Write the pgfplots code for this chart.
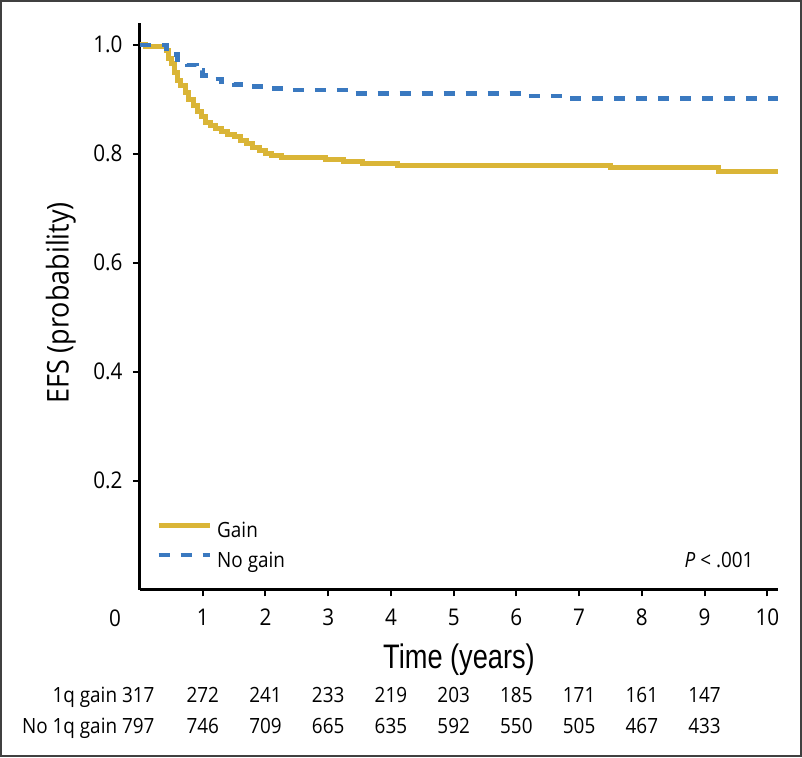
\documentclass[border=0pt]{standalone}
\usepackage{fontspec}
\setmainfont{Open Sans}[FakeStretch=0.9]
\newfontfamily\condfont[FakeStretch=0.8]{Liberation Sans}
\usepackage{pgfplots}
\pgfplotsset{compat=1.18}
\definecolor{gold}{RGB}{218,181,55}
\definecolor{kmblue}{RGB}{58,121,192}

\pgfplotstableread{
t v
0 1.000
0.08 0.997
0.42 0.990
0.45 0.975
0.50 0.965
0.55 0.950
0.60 0.935
0.65 0.925
0.72 0.912
0.78 0.900
0.85 0.888
0.92 0.878
0.98 0.868
1.05 0.858
1.12 0.852
1.20 0.846
1.30 0.840
1.40 0.836
1.50 0.831
1.60 0.824
1.70 0.818
1.80 0.811
1.90 0.806
2.00 0.801
2.10 0.797
2.25 0.793
2.95 0.789
3.25 0.786
3.55 0.782
4.10 0.779
7.50 0.774
9.22 0.768
10.17 0.768
}\gaintable

\pgfplotstableread{
t v
0 1.000
0.42 0.993
0.50 0.982
0.60 0.972
0.75 0.963
0.90 0.953
1.00 0.944
1.15 0.937
1.30 0.932
1.50 0.927
1.70 0.923
2.00 0.920
2.30 0.917
3.35 0.911
6.10 0.906
6.80 0.901
10.17 0.901
}\nogaintable

\begin{document}
\begin{tikzpicture}
\path[use as bounding box] (-140pt,589.5pt) rectangle (662pt,-167.5pt);
\draw[line width=2pt, black!75] (-138.5pt,588pt) rectangle (660.5pt,-166pt);
\begin{axis}[
  at={(0pt,0pt)}, anchor=south west,
  scale only axis, width=638pt, height=566.5pt,
  xmin=0, xmax=10.17, ymin=0, ymax=1.04,
  axis x line*=bottom, axis y line*=left,
  axis line style={-, line width=3pt, black},
  every outer x axis line/.append style={line width=3pt},
  every outer y axis line/.append style={line width=3pt},
  every inner x axis line/.append style={line width=3pt},
  every inner y axis line/.append style={line width=3pt},
  tick align=outside, major tick length=7pt,
  tick style={line width=2pt, black},
  xtick={1,2,3,4,5,6,7,8,9,10},
  xticklabels={1,2,3,4,5,6,7,8,9,10},
  ytick={0.2,0.4,0.6,0.8,1.0},
  yticklabels={0.2,0.4,0.6,0.8,1.0},
  ticklabel style={font=\fontsize{23}{27}\selectfont},
  xticklabel style={yshift=-9pt},
  yticklabel style={xshift=-7pt},
  clip=false,
  ylabel={EFS (probability)},
  ylabel style={at={(axis description cs:-0.124,0.5057)}, anchor=center, rotate=0, font=\fontsize{30}{34}\selectfont},
  legend cell align=left,
  legend style={draw=none, fill=none, inner sep=0pt, column sep=5pt,
    at={(axis description cs:0.02508,0.12798)}, anchor=north west,
    nodes={inner sep=0pt, text height=20pt, text depth=10pt},
    font=\fontsize{21}{25}\selectfont},
  legend image code/.code={\draw[#1] (0pt,7pt) -- (51pt,7pt);},
]
\addplot[const plot, color=gold, line width=5pt] table[x=t, y=v] {\gaintable};
\addlegendentry{Gain}
\addplot[const plot, color=kmblue, line width=4.5pt, dash pattern=on 11pt off 11pt] table[x=t, y=v] {\nogaintable};
\addlegendentry{No gain}
\end{axis}
\node[font=\fontsize{23}{27}\selectfont] at (-25pt,-28.5pt) {0};
\node[anchor=base east, font=\fontsize{21}{25}\selectfont] at (617pt,22.5pt) {\textit{P} < .001};
\node[anchor=base, font=\condfont\fontsize{34}{38}\selectfont] at (319pt,-78.5pt) {Time (years)};
\begin{scope}[every node/.style={anchor=base, font=\fontsize{21}{25}\selectfont}]
\node[anchor=base east] at (18pt,-113pt) {1q gain 317};
\node[anchor=base east] at (18pt,-144pt) {No 1q gain 797};
\foreach \i/\a/\b in {1/272/746,2/241/709,3/233/665,4/219/635,5/203/592,6/185/550,7/171/505,8/161/467,9/147/433}{
  \node at (62.73*\i pt,-113pt) {\a};
  \node at (62.73*\i pt,-144pt) {\b};
}
\end{scope}
\end{tikzpicture}
\end{document}
